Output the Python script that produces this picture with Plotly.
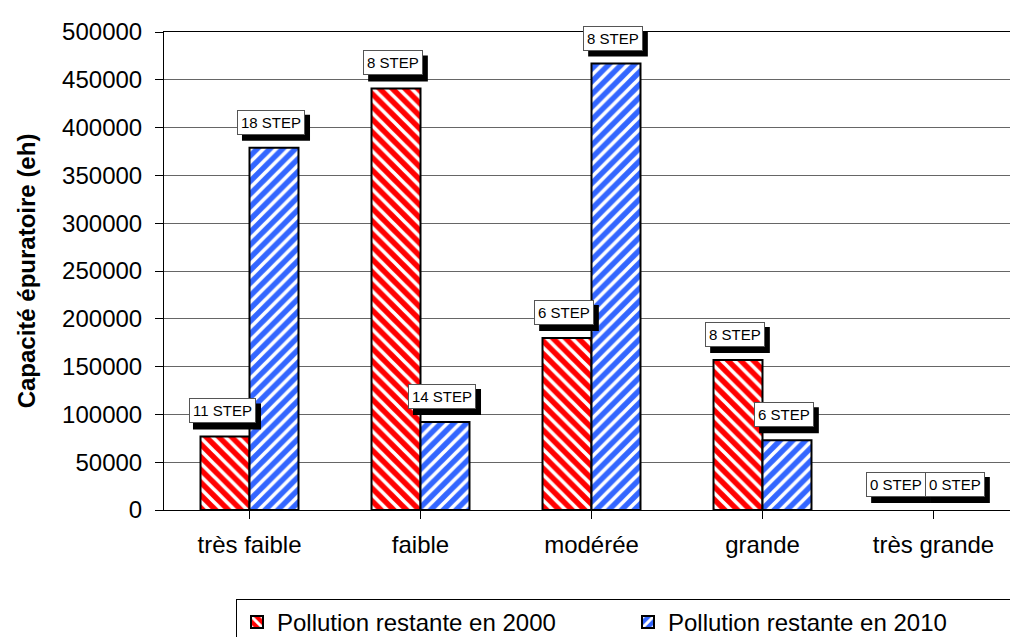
import plotly.graph_objects as go

categories = ["très faible", "faible", "modérée", "grande", "très grande"]
series_names = ["Pollution restante en 2000", "Pollution restante en 2010"]
values_2000 = [77000, 441000, 180000, 157000, 0]
values_2010 = [379000, 92000, 467000, 73000, 0]
step_2000 = [11, 8, 6, 8, 0]
step_2010 = [18, 14, 8, 6, 0]
y_ticks = list(range(0, 500001, 50000))

FONT = "Liberation Sans, Arial, sans-serif"
RED = "#FF0000"
BLUE = "#3366FF"
BARGAP = 0.427
LBL_SIZE = 15
LBL_PAD = 3
LBL_GAP = 13

fig = go.Figure()
for vals, name, col, shp in ((values_2000, series_names[0], RED, "\\"),
                             (values_2010, series_names[1], BLUE, "/")):
    fig.add_trace(go.Bar(
        x=list(range(len(categories))), y=vals, name=name,
        marker=dict(color=col,
                    line=dict(color="black", width=[2 if v > 0 else 0 for v in vals]),
                    pattern=dict(shape=shp, bgcolor=col, fgcolor="white",
                                 size=9, solidity=0.4, fillmode="replace")),
    ))

half = (1 - BARGAP) / 4  # center offset of each bar in a group of two
annos = []
shapes = []
for i, cat in enumerate(categories):
    for k, (vals, steps) in enumerate(((values_2000, step_2000), (values_2010, step_2010))):
        xc = i + (-half if k == 0 else half)
        dx = -3
        if vals[i] == 0 and k == 0:
            dx = -13
        txt = f"{steps[i]} STEP"
        # approximate label box size (Arial metrics) for the drop shadow
        w = (len(str(steps[i])) * 0.556 + 2.89) * LBL_SIZE + 2 * (LBL_PAD + 1)
        h = 18 + 2 * (LBL_PAD + 1)
        shapes.append(dict(type="rect", xref="x", yref="y",
                           xsizemode="pixel", ysizemode="pixel",
                           xanchor=xc, yanchor=vals[i],
                           x0=dx + 5 - w / 2, x1=dx + 5 + w / 2,
                           y0=LBL_GAP - 6, y1=LBL_GAP - 6 + h,
                           fillcolor="black", line=dict(width=0), layer="above"))
        annos.append(dict(x=xc, y=vals[i], xref="x", yref="y", text=txt,
                          showarrow=False, yanchor="bottom", xanchor="center",
                          xshift=dx, yshift=LBL_GAP,
                          font=dict(family=FONT, size=LBL_SIZE, color="black"),
                          bgcolor="white", bordercolor="#555555",
                          borderwidth=1, borderpad=LBL_PAD))

PLOT_L, PLOT_R, PLOT_T, PLOT_B = 156, 1011, 24, 502
def px_x(p):
    return (p - PLOT_L) / (PLOT_R - PLOT_L)
def px_y(p):
    return (PLOT_B - p) / (PLOT_B - PLOT_T)

LEG_L, LEG_R, LEG_T, LEG_B = 236, 1012, 591, 633
shapes.append(dict(type="rect", xref="paper", yref="paper",
                   x0=px_x(LEG_L + 5), x1=px_x(LEG_R + 5),
                   y0=px_y(LEG_T + 5), y1=px_y(LEG_B + 5),
                   fillcolor="black", line=dict(width=0), layer="above"))

fig.update_layout(
    width=1018, height=637,
    margin=dict(l=PLOT_L, r=1018 - PLOT_R, t=PLOT_T, b=637 - PLOT_B, autoexpand=False),
    paper_bgcolor="white", plot_bgcolor="white",
    barmode="group", bargap=BARGAP, bargroupgap=0,
    font=dict(family=FONT, size=24, color="black"),
    annotations=annos,
    shapes=shapes,
    showlegend=True,
    legend=dict(orientation="h", x=px_x(LEG_R), xanchor="right", y=px_y(LEG_T), yanchor="top",
                bordercolor="black", borderwidth=1, bgcolor="white",
                font=dict(family=FONT, size=24), entrywidth=346,
                itemwidth=30, traceorder="normal"),
)
fig.update_xaxes(
    tickmode="array", tickvals=list(range(len(categories))), ticktext=categories,
    range=[-0.5, len(categories) - 0.5],
    showline=True, linecolor="black", linewidth=1, mirror=True,
    ticks="outside", ticklen=8, tickcolor="black", tickson="boundaries",
    ticklabelstandoff=5,
    showgrid=False, tickfont=dict(size=24),
)
fig.update_yaxes(
    range=[0, 500000], tickvals=y_ticks, tickformat="d",
    showline=True, linecolor="black", linewidth=1, mirror=True,
    ticks="outside", ticklen=8, tickcolor="black", ticklabelstandoff=8,
    showgrid=True, gridcolor="#666666", gridwidth=1,
    tickfont=dict(size=24),
    title=dict(text="<b>Capacité épuratoire (eh)</b>", font=dict(size=24), standoff=19),
)

fig.write_html("out.html")
